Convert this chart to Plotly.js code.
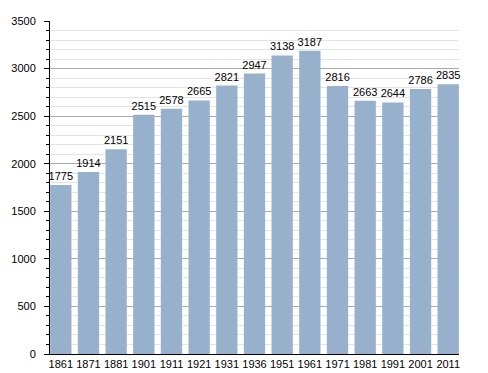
<!DOCTYPE html>
<html><head><meta charset="utf-8">
<script src="https://cdn.plot.ly/plotly-3.0.1.min.js"></script>
<style>html,body{margin:0;padding:0;background:#fff}#c{width:488px;height:373px}</style>
</head><body><div id="c"></div>
<script>
const years = ["1861","1871","1881","1901","1911","1921","1931","1936","1951","1961","1971","1981","1991","2001","2011"];
const population = [1775,1914,2151,2515,2578,2665,2821,2947,3138,3187,2816,2663,2644,2786,2835];

const trace = {
  type: 'bar', x: years, y: population,
  marker: {color: '#97b0cb'},
  text: population.map(String), textposition: 'outside', cliponaxis: false,
  constraintext: 'none',
  textfont: {family: 'Liberation Sans, Arial, sans-serif', size: 11, color: '#000'},
  hoverinfo: 'none'
};
const layout = {
  width: 488, height: 373,
  margin: {l: 50, r: 29, t: 21, b: 19, pad: 0},
  paper_bgcolor: '#fff', plot_bgcolor: '#fff',
  bargap: 0.23, showlegend: false,
  font: {family: 'Liberation Sans, Arial, sans-serif', size: 11, color: '#000'},
  xaxis: {type: 'category', range: [-0.39, years.length - 1 + 0.39], showline: true, linecolor: '#000', linewidth: 1, ticks: '', showgrid: false,
    tickfont: {size: 11}, automargin: false},
  yaxis: {range: [0, 3500], dtick: 500, showline: true, linecolor: '#000', linewidth: 1,
    ticks: 'outside', ticklen: 5, tickcolor: '#000', showgrid: true, gridcolor: '#aaaaaa', gridwidth: 1,
    zeroline: false, ticklabelstandoff: 6, tickfont: {size: 11},
    minor: {dtick: 100, ticks: 'outside', ticklen: 3, tickcolor: '#000', showgrid: true, gridcolor: '#e4e4e4', gridwidth: 1},
    automargin: false}
};
Plotly.newPlot('c', [trace], layout, {displayModeBar: false, staticPlot: true});
</script></body></html>
